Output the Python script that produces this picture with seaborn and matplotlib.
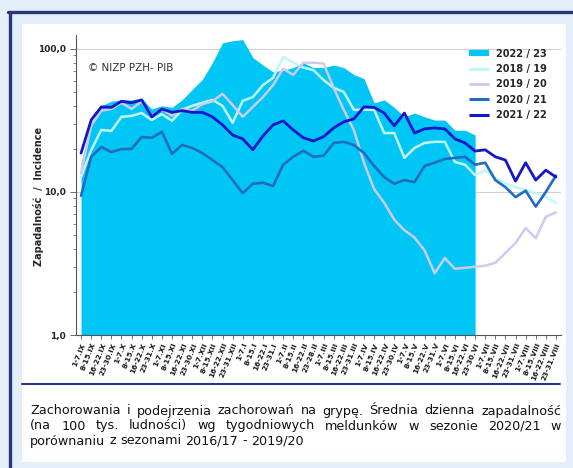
import matplotlib
matplotlib.use("Agg")
import matplotlib.pyplot as plt
from matplotlib.lines import Line2D
from matplotlib.patches import Rectangle
from matplotlib.ticker import LogLocator, NullFormatter
import numpy as np
import seaborn as sns

# week labels (season runs September -> August)
weeks = [
    "1-7.IX", "8-15.IX", "16-22.IX", "23-30.IX",
    "1-7.X", "8-15.X", "16-22.X", "23-31.X",
    "1-7.XI", "8-15.XI", "16-22.XI", "23-30.XI",
    "1-7.XII", "8-15.XII", "16-22.XII", "23-31.XII",
    "1-7.I", "8-15.I", "16-22.I", "23-31.I",
    "1-7.II", "8-15.II", "16-22.II", "23-28.II",
    "1-7.III", "8-15.III", "16-22.III", "23-31.III",
    "1-7.IV", "8-15.IV", "16-22.IV", "23-30.IV",
    "1-7.V", "8-15.V", "16-22.V", "23-31.V",
    "1-7.VI", "8-15.VI", "16-22.VI", "23-30.VI",
    "1-7.VII", "8-15.VII", "16-22.VII", "23-31.VII",
    "1-7.VIII", "8-15.VIII", "16-22.VIII", "23-31.VIII",
]

# incidence per 100k (area series, only up to end of June)
season_2022_23 = [16, 30, 40, 43, 44, 44, 45, 38, 40, 39, 44, 52, 61, 80, 110, 114,
                  116, 87, 77, 69, 71, 74, 80, 74, 74, 77, 74, 66, 62, 42,
                  44, 39, 33.5, 35.6, 33.5, 31.8, 31.8, 27, 27, 25]
season_2018_19 = [12.7, 19.6, 27.1, 26.7, 33.5, 34, 35.6, 31.8, 35, 31.4, 37.5, 40,
                  42, 44, 40, 30.4, 43.3, 46, 55.8, 62.7, 88, 80, 74, 71,
                  60.6, 53.4, 50, 37.5, 37.5, 37.5, 25.8, 25.8, 17.3, 20.3, 22, 22.4,
                  22.4, 16.2, 15.5, 13.1, 14.2, 12.5, 11.5, 10.8, 10.3, 9.8, 9.2, 8.4]
season_2019_20 = [13.5, 29, 37, 38, 42, 38, 43, 34, 38, 34, 38, 37,
                  41, 43, 48.5, 40.5, 33.5, 39.3, 46, 55.8, 72.6, 65.8, 80, 80,
                  79, 53.4, 37.5, 27.1, 16, 10.5, 8.4, 6.4, 5.4, 4.8, 3.9, 2.7,
                  3.45, 2.9, 2.95, 3.0, 3.05, 3.2, 3.75, 4.4, 5.6, 4.75, 6.7, 7.2]
season_2020_21 = [9.4, 17.6, 20.6, 19, 19.9, 20, 24.2, 23.9, 26.3, 18.5, 21.3, 20.3,
                  18.7, 16.7, 14.9, 12.1, 9.8, 11.4, 11.6, 11, 15.5, 17.6, 19.4, 17.6,
                  17.9, 22, 22.4, 21.3, 18.7, 15.2, 12.7, 11.4, 12.1, 11.7, 15.2, 16,
                  17, 17.3, 17.6, 15.5, 16, 12.1, 10.8, 9.2, 10.2, 7.9, 10, 13]
season_2021_22 = [18.7, 31.8, 39.3, 39, 43, 42, 44, 33.5, 38, 36, 37, 36,
                  36, 33.5, 29.4, 25, 23.5, 19.7, 24.6, 29.4, 31.4, 27.1, 23.9, 22.7,
                  24.3, 28, 30.9, 32.4, 39.3, 39, 35.6, 29, 35.6, 25.8, 27.6, 28,
                  27.6, 23.5, 22, 19.3, 19.7, 17.6, 16.7, 11.9, 16, 12.1, 14.2, 12.7]

line_series = [
    ("2018 / 19", season_2018_19, "#c2f7f7", 1.8),
    ("2019 / 20", season_2019_20, "#cdcbf0", 1.8),
    ("2020 / 21", season_2020_21, "#1f6cc0", 1.9),
    ("2021 / 22", season_2021_22, "#1515cc", 2.0),
]
area_color = "#00c6f6"

sns.set_style("ticks")
plt.rcParams["font.family"] = ["DejaVu Sans"]

W, H = 573, 468
fig = plt.figure(figsize=(W / 100, H / 100), dpi=100)
fig.patch.set_facecolor("#e4eef9")

# page frame
fig.add_artist(Rectangle((22 / W, 1 - 462 / H), (566 - 22) / W, (462 - 24) / H,
                         transform=fig.transFigure, facecolor="white",
                         edgecolor="none", zorder=0))
fig.add_artist(Line2D([8 / W, 1], [1 - 12 / H] * 2, color="#2b3677", lw=2.4))
fig.add_artist(Line2D([9.5 / W] * 2, [0, 1 - 12 / H], color="#2b3677", lw=2.4))
fig.add_artist(Line2D([22 / W, 560 / W], [1 - 384 / H] * 2, color="#1c2a90", lw=1.4))

ax = fig.add_axes([76 / W, 1 - 335 / H, 485 / W, 300 / H])
ax.set_facecolor("none")
x = np.arange(len(weeks))

ax.fill_between(x[:len(season_2022_23)], 1, season_2022_23, color=area_color,
                lw=0, zorder=1)
for label, vals, color, lw in line_series:
    sns.lineplot(x=x, y=vals, color=color, lw=lw, ax=ax, zorder=3)

ax.set_yscale("log")
ax.set_ylim(1, 125)
ax.set_xlim(-0.5, len(weeks) - 0.5)
ax.set_yticks([1, 10, 100])
ax.set_yticklabels(["1,0", "10,0", "100,0"], fontsize=6.5, fontweight="bold")
ax.yaxis.set_minor_locator(LogLocator(base=10, subs=np.arange(2, 10)))
ax.yaxis.set_minor_formatter(NullFormatter())
ax.set_xticks(x)
ax.set_xticklabels(weeks, rotation=68, ha="right", rotation_mode="anchor",
                   fontsize=5.3, fontweight="bold", color="#1a1a1a")
ax.tick_params(axis="x", length=3, width=0.6, pad=2, color="#555555")
ax.tick_params(axis="y", which="major", length=4, width=0.6, pad=3, color="#555555")
ax.tick_params(axis="y", which="minor", length=2.5, width=0.5, color="#555555")
ax.set_axisbelow(True)
ax.yaxis.grid(True, which="major", color="#d0d0d0", lw=0.8)
ax.set_xlabel("")
ax.set_ylabel("")
for side in ["top", "right"]:
    ax.spines[side].set_visible(False)
for side in ["left", "bottom"]:
    ax.spines[side].set_color("#555555")
    ax.spines[side].set_linewidth(0.8)

fig.text(39 / W, 1 - 196 / H, "Zapadalność  /  Incidence", rotation=90,
         ha="center", va="center", fontsize=7, fontweight="bold")
fig.text(88 / W, 1 - 68 / H, "© NIZP PZH- PIB", fontsize=7.5, va="center",
         color="#333333")

handles = [Line2D([], [], color=area_color, lw=4.5, solid_capstyle="butt")]
labels = ["2022 / 23"]
for label, vals, color, lw in line_series:
    handles.append(Line2D([], [], color=color, lw=2.2, solid_capstyle="butt"))
    labels.append(label)
ax.legend(handles, labels, loc="upper right", bbox_to_anchor=(556 / W, 1 - 40 / H),
          bbox_transform=fig.transFigure, frameon=False, handlelength=2.0,
          labelspacing=0.55, prop={"size": 7, "weight": "bold"})

# caption, justified like the source page
caption = [
    "Zachorowania i podejrzenia zachorowań na grypę. Średnia dzienna zapadalność",
    "(na 100 tys. ludności) wg tygodniowych meldunków w sezonie 2020/21 w",
    "porównaniu z sezonami 2016/17 - 2019/20",
]
renderer = fig.canvas.get_renderer()
x0, x1 = 30, 561
for i, line in enumerate(caption):
    y = 1 - (411 + 15 * i) / H
    words = line.split(" ")
    texts = [fig.text(0, y, w, fontsize=9.2, va="center", color="#111111") for w in words]
    widths = [t.get_window_extent(renderer).width for t in texts]
    if i < len(caption) - 1:
        gap = ((x1 - x0) - sum(widths)) / (len(words) - 1)
    else:
        gap = texts[0].get_fontsize() * 100 / 72 * 0.32
    pos = x0
    for t, w in zip(texts, widths):
        t.set_x(pos / W)
        pos += w + gap

fig.savefig("out.png", dpi=100, facecolor=fig.get_facecolor())
